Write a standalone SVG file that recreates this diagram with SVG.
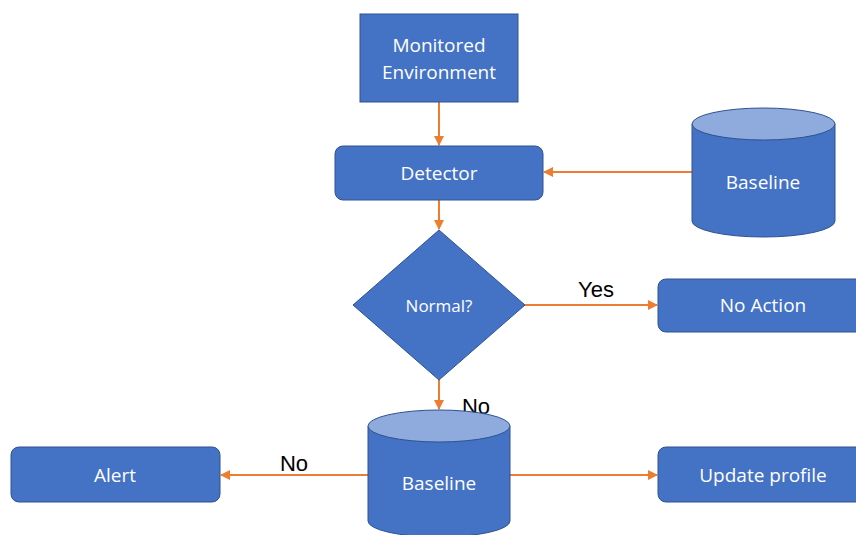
<svg xmlns="http://www.w3.org/2000/svg" width="856" height="535" viewBox="0 0 856 535">
<style>
.box{fill:#4472C4;stroke:#2F528F;stroke-width:1}
.top{fill:#8FAADC;stroke:#2F528F;stroke-width:1}
.lbl{font-family:"Open Sans","Noto Sans",sans-serif;font-size:19px;fill:#FFFFFF;text-anchor:middle;dominant-baseline:central}
.edge{stroke:#ED7D31;stroke-width:2;fill:none;marker-end:url(#ah)}
.elbl{font-family:"Liberation Sans",Arial,sans-serif;font-size:22px;fill:#000000;text-anchor:middle;dominant-baseline:central}
</style>
<defs>
<marker id="ah" viewBox="0 0 10 10" refX="9" refY="5" markerWidth="5" markerHeight="5" orient="auto" markerUnits="strokeWidth">
<path d="M0,0 L10,5 L0,10 z" fill="#ED7D31"/>
</marker>
</defs>
<rect width="856" height="535" fill="#FFFFFF"/>
<g id="connectors">
<line class="edge" x1="439" y1="102" x2="439" y2="145"/>
<line class="edge" x1="692" y1="172" x2="544" y2="172"/>
<line class="edge" x1="439" y1="200" x2="439" y2="229"/>
<line class="edge" x1="525" y1="305" x2="657" y2="305"/>
<line class="edge" x1="439" y1="380" x2="439" y2="409"/>
<line class="edge" x1="368" y1="475" x2="221" y2="475"/>
<line class="edge" x1="510" y1="475" x2="657" y2="475"/>
<text class="elbl" x="596" y="289">Yes</text>
<text class="elbl" x="476" y="406">No</text>
<text class="elbl" x="294" y="463">No</text>
</g>
<g id="monitored">
<rect class="box" x="360" y="14" width="158" height="88"/>
<text class="lbl" x="439" y="45">Monitored</text>
<text class="lbl" x="439" y="72">Environment</text>
</g>
<g id="detector">
<rect class="box" x="335" y="146" width="208" height="54" rx="8"/>
<text class="lbl" x="439" y="173">Detector</text>
</g>
<g id="baseline1">
<path class="box" d="M692,124 L692,221 A71.5,16 0 0 0 835,221 L835,124"/>
<ellipse class="top" cx="763.5" cy="124" rx="71.5" ry="16"/>
<text class="lbl" x="763" y="182">Baseline</text>
</g>
<g id="normal">
<polygon class="box" points="439,230 525,305 439,380 353,305"/>
<text class="lbl" x="439" y="305" style="font-size:17px">Normal?</text>
</g>
<g id="noaction">
<rect class="box" x="658" y="279" width="210" height="53" rx="8"/>
<text class="lbl" x="763" y="305">No Action</text>
</g>
<g id="baseline2">
<path class="box" d="M368,426 L368,521 A71,16 0 0 0 510,521 L510,426"/>
<ellipse class="top" cx="439" cy="426" rx="71" ry="16"/>
<text class="lbl" x="439" y="483">Baseline</text>
</g>
<g id="alert">
<rect class="box" x="11" y="447" width="209" height="55" rx="8"/>
<text class="lbl" x="115" y="475">Alert</text>
</g>
<g id="update">
<rect class="box" x="658" y="447" width="210" height="55" rx="8"/>
<text class="lbl" x="763" y="475">Update profile</text>
</g>
</svg>
